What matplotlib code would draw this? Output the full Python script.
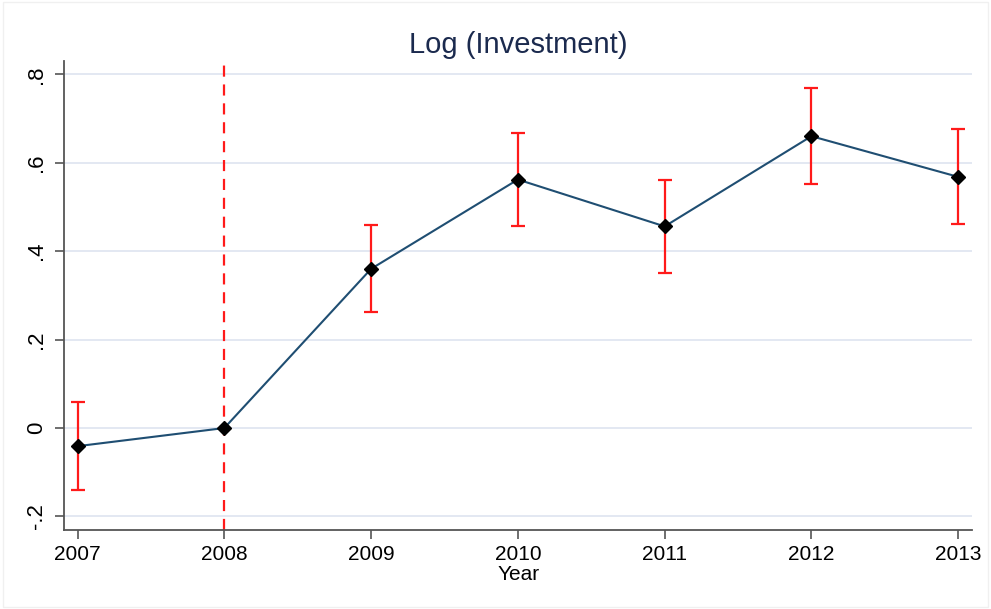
import matplotlib.pyplot as plt
import matplotlib.patches as mpatches
import numpy as np

plt.rcParams['font.family'] = ['Liberation Sans', 'DejaVu Sans']

years = [2007, 2008, 2009, 2010, 2011, 2012, 2013]
coef = [-0.041, 0.0, 0.360, 0.562, 0.456, 0.660, 0.568]
ci_low = [-0.141, 0.0, 0.262, 0.458, 0.351, 0.551, 0.461]
ci_high = [0.060, 0.0, 0.459, 0.667, 0.562, 0.769, 0.676]
yticks = [-0.2, 0.0, 0.2, 0.4, 0.6, 0.8]
ytick_labels = ["-.2", "0", ".2", ".4", ".6", ".8"]
event_year = 2008

fig = plt.figure(figsize=(9.91, 6.09), dpi=100)
ax = fig.add_axes([0.0646, 0.1297, 0.9164, 0.7701])

# light frame round the whole graph
fig.patches.append(mpatches.Rectangle((0.003, 0.004), 0.994, 0.992, transform=fig.transFigure,
                                      fill=False, edgecolor="#f0f0f0", linewidth=1))

x = np.array(years)
y = np.array(coef)
lo = np.array(ci_low)
hi = np.array(ci_high)
has_ci = hi > lo

ax.errorbar(x[has_ci], y[has_ci], yerr=[y[has_ci] - lo[has_ci], hi[has_ci] - y[has_ci]],
            fmt="none", ecolor="#ff1a1a", elinewidth=1.6, capsize=5, capthick=1.6, zorder=3)
ax.plot(x, y, color="#1f4e72", linewidth=1.5, zorder=4)
ax.plot(x, y, linestyle="none", marker="D", markersize=7.5, color="black", zorder=5)
ax.axvline(event_year, color="#ff1a1a", linestyle=(0, (5, 3.5)), linewidth=1.6, zorder=2)

ax.set_xlim(2006.908, 2013.095)
ax.set_ylim(-0.2306, 0.830)
ax.set_yticks(yticks)
ax.set_yticklabels(ytick_labels, rotation=90, va="center")
ax.set_xticks(years)
ax.set_xticklabels([str(v) for v in years])
ax.grid(axis="y", color="#e1e6f1", linewidth=1.3, zorder=0)
ax.set_axisbelow(True)

for side in ["top", "right"]:
    ax.spines[side].set_visible(False)
for side in ["left", "bottom"]:
    ax.spines[side].set_color("#555555")
    ax.spines[side].set_linewidth(1.3)
ax.tick_params(axis="both", labelsize=15, length=6.5, width=1.2, color="#555555")
ax.tick_params(axis="y", labelsize=16, pad=6)
ax.tick_params(axis="x", pad=4)
for lab in ax.get_xticklabels() + ax.get_yticklabels():
    lab.set_color("black")

ax.set_xlabel("Year", fontsize=15, labelpad=1)
ax.set_title("Log (Investment)", fontsize=21, color="#1b2a4e", pad=6)

fig.savefig("out.png", dpi=100)
